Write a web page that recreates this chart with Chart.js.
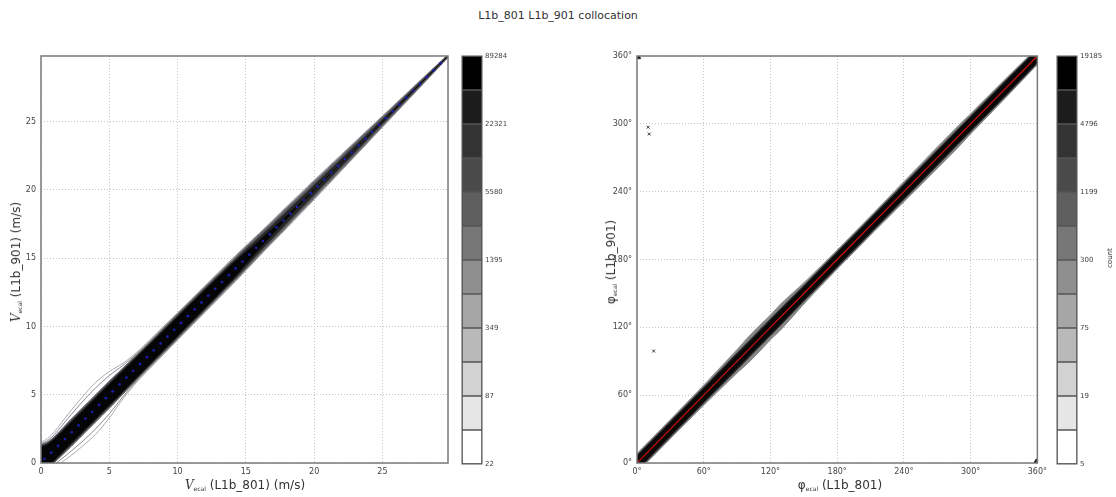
<!DOCTYPE html>
<html>
<head>
<meta charset="utf-8">
<title>L1b_801 L1b_901 collocation</title>
<script src="https://cdn.jsdelivr.net/npm/chart.js@4/dist/chart.umd.min.js"></script>
<style>
  body { margin: 0; width: 1116px; height: 497px; position: relative; overflow: hidden;
         background: #fff; font-family: "DejaVu Sans", sans-serif; color: #333; }
  canvas { position: absolute; }
  .txt { position: absolute; white-space: nowrap; font-size: 11px; transform: translate(-50%, -50%); }
  .rot { transform: translate(-50%, -50%) rotate(-90deg); }
  .txt sub { font-size: 6px; vertical-align: -2px; }
  .txt i { font-family: "DejaVu Serif", serif; }
</style>
</head>
<body>
<div class="txt" style="left:558px;top:15px;">L1b_801 L1b_901 collocation</div>

<canvas id="speedPlot" width="455" height="457" style="left:0;top:40px;"></canvas>
<canvas id="speedBar" width="80" height="440" style="left:455px;top:40px;"></canvas>
<canvas id="dirPlot" width="455" height="457" style="left:596px;top:40px;"></canvas>
<canvas id="dirBar" width="60" height="440" style="left:1050px;top:40px;"></canvas>

<div class="txt" style="left:245px;top:485px;font-size:12px;"><i>V</i><sub>ecal</sub> (L1b_801) (m/s)</div>
<div class="txt rot" style="left:16px;top:262px;font-size:12px;"><i>V</i><sub>ecal</sub> (L1b_901) (m/s)</div>
<div class="txt" style="left:840px;top:485px;font-size:12px;">φ<sub>ecal</sub> (L1b_801)</div>
<div class="txt rot" style="left:611px;top:262px;font-size:12px;">φ<sub>ecal</sub> (L1b_901)</div>
<div class="txt rot" style="left:1110px;top:258px;font-size:7px;">count</div>

<script>
// ---- wind speed panel ----
const speedTicks = [0, 5, 10, 15, 20, 25];
const speedMax = 29.8;

// binned mean of L1b_901 speed against L1b_801 speed
const meanX = [0.25, 0.75, 1.25, 1.75, 2.25, 2.75, 3.25, 3.75, 4.25, 4.75, 5.25, 5.75, 6.25, 6.75, 7.25, 7.75,
  8.25, 8.75, 9.25, 9.75, 10.25, 10.75, 11.25, 11.75, 12.25, 12.75, 13.25, 13.75, 14.25, 14.75, 15.25, 15.75,
  16.25, 16.75, 17.25, 17.75, 18.25, 18.75, 19.25, 19.75, 20.25, 20.75, 21.25, 21.75, 22.25, 22.75, 23.25,
  23.75, 24.25, 24.75, 25.25, 25.75, 26.25, 26.75, 27.25, 27.75, 28.25, 28.75, 29.25];
const meanY = [0.3, 0.75, 1.25, 1.75, 2.25, 2.75, 3.25, 3.75, 4.25, 4.75, 5.25, 5.75, 6.25, 6.75, 7.25, 7.75,
  8.25, 8.75, 9.25, 9.75, 10.25, 10.75, 11.25, 11.75, 12.25, 12.75, 13.25, 13.75, 14.25, 14.75, 15.25, 15.75,
  16.25, 16.75, 17.25, 17.75, 18.25, 18.75, 19.25, 19.75, 20.25, 20.75, 21.25, 21.75, 22.25, 22.75, 23.25,
  23.75, 24.25, 24.75, 25.25, 25.75, 26.25, 26.75, 27.25, 27.75, 28.25, 28.75, 29.25];

// contour band: centre and half-widths (m/s) of each density level
const speedBandX   = [0, 0.5, 1, 2, 3, 4, 5, 6, 7, 8, 10, 12, 14, 15, 16, 18, 20, 22, 24, 26, 28, 29.8];
const speedBandMid = [0.4, 0.6, 1, 2, 3, 4, 5, 6, 7, 8, 10, 12, 14, 15, 16, 18, 20, 22, 24, 26, 28, 29.8];
const speedLevel1  = [1.1, 1.2, 1.3, 1.6, 1.8, 1.9, 1.7, 1.3, 1.1, 1.05, 1.0, 0.98, 0.95, 0.92, 0.85, 0.8, 0.72, 0.6, 0.48, 0.36, 0.24, 0.12];
const speedLevel2  = [1.0, 1.05, 1.1, 1.3, 1.45, 1.5, 1.4, 1.15, 1.0, 0.98, 0.95, 0.92, 0.9, 0.85, 0.8, 0.72, 0.65, 0.54, 0.42, 0.3, 0.2, 0.1];
const speedLevel3  = [0.95, 0.95, 0.95, 1.0, 1.0, 1.0, 1.0, 0.96, 0.92, 0.9, 0.88, 0.86, 0.82, 0.8, 0.74, 0.66, 0.58, 0.48, 0.38, 0.27, 0.17, 0.08];
const speedLevel4  = [0.85, 0.85, 0.85, 0.85, 0.85, 0.85, 0.85, 0.84, 0.82, 0.8, 0.78, 0.75, 0.7, 0.64, 0.55, 0.44, 0.36, 0.28, 0.2, 0.14, 0.09, 0.04];
const speedLevel5  = [0.75, 0.75, 0.75, 0.75, 0.75, 0.75, 0.75, 0.74, 0.72, 0.7, 0.68, 0.64, 0.56, 0.44, 0.3, 0.12, 0.02, 0, 0, 0, 0, 0];

const speedBarLabels = [22, 87, 349, 1395, 5580, 22321, 89284];

// ---- wind direction panel ----
const dirTicks = [0, 60, 120, 180, 240, 300, 360];
const dirMax = 360;

const fitX = [0, 60, 120, 180, 240, 300, 360];
const fitY = [0, 60, 120, 180, 240, 300, 360];

const dirBandX   = [0, 30, 60, 90, 100, 110, 120, 130, 150, 180, 210, 240, 270, 290, 300, 330, 360];
const dirBandMid = [0, 30, 60, 90, 100, 110, 120, 130, 150, 180, 210, 240, 270, 290, 300, 330, 360];
const dirHalo    = [8.5, 8.5, 9, 10.5, 11.5, 11.5, 11, 11.5, 9.5, 8.5, 8.5, 9, 9.5, 9.5, 9, 8.5, 7.5];
const dirDark    = [7, 7, 7, 7.5, 7.5, 7.5, 7.5, 7.5, 7, 7, 7, 7, 7, 7, 7, 7, 6.5];
const dirCore    = [5.5, 5.5, 5.5, 5.5, 5.5, 5.7, 5.7, 5.7, 5.5, 5.5, 5.5, 5.5, 5.5, 5.5, 5.5, 5.5, 5.2];

// isolated counts away from the diagonal
const strayX = [10, 11, 15];
const strayY = [297, 291, 99];
const cornerX = [1, 359];
const cornerY = [359, 1];

const dirBarLabels = [5, 19, 75, 300, 1199, 4796, 19185];

// colour levels, bottom to top
const barShades = ['#ffffff', '#e6e6e6', '#d2d2d2', '#b9b9b9', '#a6a6a6', '#8f8f8f',
                   '#777777', '#5f5f5f', '#4a4a4a', '#333333', '#1c1c1c', '#000000'];

const tickFont = { family: 'DejaVu Sans', size: 8 };

const frame = {
  id: 'frame',
  afterDraw(chart) {
    const a = chart.chartArea, ctx = chart.ctx;
    ctx.save();
    ctx.strokeStyle = chart.options.plugins.frame.color;
    ctx.lineWidth = chart.options.plugins.frame.width;
    ctx.strokeRect(a.left, a.top, a.right - a.left, a.bottom - a.top);
    ctx.restore();
  }
};

const pts = (xs, ys) => xs.map((x, i) => ({ x: x, y: ys[i] }));
const edge = (xs, mid, half, s) => xs.map((x, i) => ({ x: x, y: mid[i] + s * half[i] }));

function band(xs, mid, half, fillColor, lineColor, lineWidth) {
  return [
    { data: edge(xs, mid, half, 1), fill: '+1', backgroundColor: fillColor, borderColor: lineColor,
      borderWidth: lineWidth, pointRadius: 0, tension: 0.25 },
    { data: edge(xs, mid, half, -1), fill: false, borderColor: lineColor,
      borderWidth: lineWidth, pointRadius: 0, tension: 0.25 }
  ];
}

function contour(xs, mid, half, lineColor) {
  return [
    { data: edge(xs, mid, half, 1), fill: false, borderColor: lineColor, borderWidth: 1, pointRadius: 0, tension: 0.3 },
    { data: edge(xs, mid, half, -1), fill: false, borderColor: lineColor, borderWidth: 1, pointRadius: 0, tension: 0.3 }
  ];
}

function plotOptions(max, ticks, fmt, yWidth) {
  const axis = (pos) => ({
    type: 'linear', position: pos, min: 0, max: max,
    afterBuildTicks: (s) => { s.ticks = ticks.map(v => ({ value: v })); },
    afterFit: (s) => { if (pos === 'left') s.width = yWidth; else s.height = 34; },
    ticks: { font: tickFont, color: '#444', padding: pos === 'left' ? 5 : 4, callback: fmt, maxRotation: 0 },
    grid: { color: '#c4c4c4', lineWidth: 1, drawTicks: false },
    border: { display: false, dash: [1, 2] }
  });
  return {
    responsive: false, animation: false,
    layout: { padding: { top: 16, right: 7, left: 0, bottom: 0 } },
    plugins: { legend: { display: false }, tooltip: { enabled: false }, frame: { color: '#7a7a7a', width: 1.5 } },
    scales: { x: axis('bottom'), y: axis('left') }
  };
}

function colorbar(id, labels, axisWidth) {
  new Chart(document.getElementById(id), {
    type: 'bar',
    data: {
      labels: [''],
      datasets: barShades.map(c => ({ data: [1], backgroundColor: c, borderColor: '#555', borderWidth: 1,
        barPercentage: 1, categoryPercentage: 1, borderSkipped: false }))
    },
    options: {
      responsive: false, animation: false,
      layout: { padding: { top: 16, bottom: 16, left: 7, right: 0 } },
      plugins: { legend: { display: false }, tooltip: { enabled: false }, frame: { color: '#555', width: 1 } },
      scales: {
        x: { display: false, stacked: true },
        y: {
          position: 'right', stacked: true, min: 0, max: barShades.length,
          afterBuildTicks: (s) => { s.ticks = labels.map((v, i) => ({ value: i * 2 })); },
          afterFit: (s) => { s.width = axisWidth; },
          ticks: { font: { family: 'DejaVu Sans', size: 7 }, color: '#444', padding: 3,
                   callback: (v) => labels[v / 2] },
          grid: { display: false, drawTicks: false }, border: { display: false }
        }
      }
    },
    plugins: [frame]
  });
}

new Chart(document.getElementById('speedPlot'), {
  type: 'line',
  data: {
    datasets: [
      { data: pts(meanX, meanY), showLine: false, pointRadius: 1.4, pointBorderWidth: 0,
        pointBackgroundColor: '#1c1ca8' },
      ...band(speedBandX, speedBandMid, speedLevel5, '#050505', '#0a0a0a', 0.5),
      ...band(speedBandX, speedBandMid, speedLevel4, '#262626', '#333', 0.6),
      ...band(speedBandX, speedBandMid, speedLevel3, '#5e5e5e', '#4c4c66', 0.8),
      ...contour(speedBandX, speedBandMid, speedLevel2, '#888'),
      ...contour(speedBandX, speedBandMid, speedLevel1, '#aaa')
    ]
  },
  options: plotOptions(speedMax, speedTicks, (v) => v, 41),
  plugins: [frame]
});

new Chart(document.getElementById('dirPlot'), {
  type: 'line',
  data: {
    datasets: [
      { data: pts(fitX, fitY), borderColor: '#d01010', borderWidth: 1.2, pointRadius: 0, fill: false },
      { data: pts(strayX, strayY), showLine: false, pointStyle: 'crossRot', pointRadius: 2,
        pointBorderColor: '#333', pointBorderWidth: 1 },
      { data: pts(cornerX, cornerY), showLine: false, pointStyle: 'triangle', pointRadius: 3,
        pointBackgroundColor: '#222', pointBorderColor: '#222' },
      ...band(dirBandX, dirBandMid, dirCore, '#080808', '#080808', 0.5),
      ...band(dirBandX, dirBandMid, dirDark, '#262626', '#333', 0.6),
      ...band(dirBandX, dirBandMid, dirHalo, 'rgba(95,95,95,0.75)', '#8a8a8a', 0.8)
    ]
  },
  options: plotOptions(dirMax, dirTicks, (v) => v + '°', 41),
  plugins: [frame]
});

colorbar('speedBar', speedBarLabels, 53);
colorbar('dirBar', dirBarLabels, 33);
</script>
</body>
</html>
